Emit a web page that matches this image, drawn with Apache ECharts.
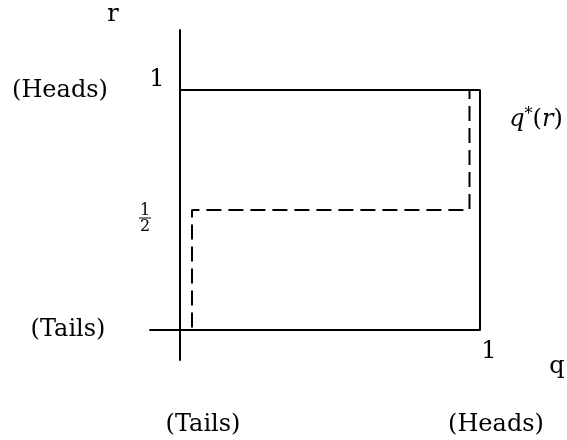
<!DOCTYPE html>
<html>
<head>
<meta charset="utf-8">
<script src="https://cdn.jsdelivr.net/npm/echarts@6/dist/echarts.min.js"></script>
<style>
  html, body { margin: 0; padding: 0; background: #fff; }
  #chart { width: 567px; height: 440px; }
</style>
</head>
<body>
<div id="chart"></div>
<script>
// best response of player r (solid) and of player q (dashed)
const solidLine = [[0, 1], [1, 1], [1, 0]];
const dashedLine = [[0.04, 0.01], [0.04, 0.5], [0.965, 0.5], [0.965, 1]];
const qTicks = [1];
const rTicks = [1, 0.5];

const font = 'DejaVu Serif';
const black = '#000';

let myChart = echarts.init(document.getElementById('chart'));
myChart.setOption({
  animation: false,
  grid: { left: 150, top: 30, width: 330, height: 330 },
  xAxis: {
    type: 'value',
    min: -0.1,
    max: 1,
    splitLine: { show: false },
    axisTick: { show: false },
    axisLabel: { show: false },
    axisLine: { onZero: true, lineStyle: { color: black, width: 2 } }
  },
  yAxis: {
    type: 'value',
    min: -0.125,
    max: 1.25,
    splitLine: { show: false },
    axisTick: { show: false },
    axisLabel: { show: false },
    axisLine: { onZero: true, lineStyle: { color: black, width: 2 } }
  },
  series: [{
    type: 'line',
    data: solidLine,
    symbol: 'none',
    lineStyle: { color: black, width: 2 }
  }, {
    type: 'line',
    data: dashedLine,
    symbol: 'none',
    lineStyle: { color: black, width: 2, type: [15, 7] }
  }]
});

// labels placed from data coordinates
function px(q, r) {
  return myChart.convertToPixel({ gridIndex: 0 }, [q, r]);
}
function txt(x, y, text, size) {
  return {
    type: 'text', x: x, y: y,
    style: { text: text, fontSize: size, fontFamily: font, fill: black, align: 'center', verticalAlign: 'middle' }
  };
}

const els = [];
const p1 = px(qTicks[0], 0);
els.push(txt(p1[0] + 9, p1[1] + 22, '1', 24));
const r1 = px(0, rTicks[0]);
els.push(txt(r1[0] - 23, r1[1] - 10, '1', 24));
const rh = px(0, rTicks[1]);
els.push(txt(rh[0] - 35, rh[1] + 1, '1', 16));
els.push({ type: 'line', shape: { x1: rh[0] - 41, y1: rh[1] + 8, x2: rh[0] - 29, y2: rh[1] + 8 }, style: { stroke: black, lineWidth: 1 } });
els.push(txt(rh[0] - 35, rh[1] + 17, '2', 16));

els.push(txt(113, 15, 'r', 24));
els.push(txt(557, 367, 'q', 24));
els.push(txt(60, 91, '(Heads)', 24));
els.push(txt(68, 330, '(Tails)', 24));
els.push(txt(203, 425, '(Tails)', 24));
els.push(txt(496, 425, '(Heads)', 24));
els.push({
  type: 'text', x: 536, y: 120,
  style: {
    text: '{i|q}{s|*}{n|(}{i|r}{n|)}',
    align: 'center', verticalAlign: 'middle',
    rich: {
      i: { fontSize: 24, fontStyle: 'italic', fontFamily: font, fill: black },
      n: { fontSize: 24, fontFamily: font, fill: black },
      s: { fontSize: 16, fontFamily: font, fill: black, verticalAlign: 'top', padding: [0, 0, 10, 0] }
    }
  }
});

myChart.setOption({ graphic: { elements: els } });
</script>
</body>
</html>
